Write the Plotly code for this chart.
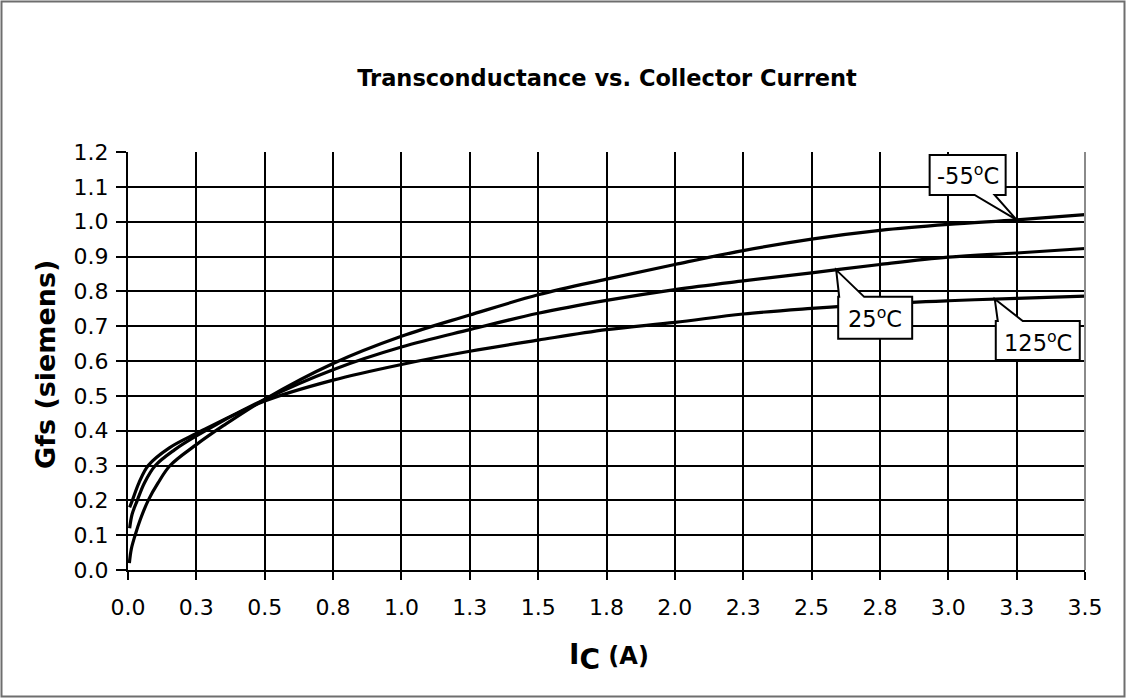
import numpy as np
import plotly.graph_objects as go

# ---------------- data ----------------
chart_title = "Transconductance vs. Collector Current"
y_axis_title = "Gfs (siemens)"

x_tick_values = [0.0, 0.25, 0.5, 0.75, 1.0, 1.25, 1.5, 1.75, 2.0, 2.25, 2.5, 2.75, 3.0, 3.25, 3.5]
x_tick_labels = ["0.0", "0.3", "0.5", "0.8", "1.0", "1.3", "1.5", "1.8", "2.0",
                 "2.3", "2.5", "2.8", "3.0", "3.3", "3.5"]

series_names = ["-55", "25", "125"]

ic_m55 = [0.005, 0.012, 0.026, 0.045, 0.074, 0.11, 0.154, 0.25, 0.35, 0.5, 0.75, 1.0,
          1.25, 1.5, 1.75, 2.0, 2.25, 2.5, 2.75, 3.0, 3.25, 3.5]
gfs_m55 = [0.02, 0.06, 0.10, 0.145, 0.20, 0.25, 0.30, 0.36, 0.415, 0.49, 0.593, 0.671,
           0.732, 0.79, 0.835, 0.877, 0.917, 0.95, 0.975, 0.992, 1.005, 1.02]

ic_25 = [0.006, 0.015, 0.034, 0.06, 0.1, 0.17, 0.25, 0.5, 0.75, 1.0, 1.25, 1.5, 1.75,
         2.0, 2.25, 2.5, 2.75, 3.0, 3.25, 3.5]
gfs_25 = [0.12, 0.16, 0.20, 0.25, 0.30, 0.345, 0.385, 0.49, 0.575, 0.64, 0.69, 0.737,
          0.774, 0.805, 0.83, 0.853, 0.877, 0.898, 0.91, 0.923]

ic_125 = [0.006, 0.016, 0.04, 0.074, 0.15, 0.25, 0.5, 0.75, 1.0, 1.25, 1.5, 1.75, 2.0,
          2.25, 2.5, 2.75, 3.0, 3.25, 3.5]
gfs_125 = [0.18, 0.20, 0.25, 0.30, 0.35, 0.392, 0.485, 0.545, 0.59, 0.628, 0.66, 0.69,
           0.711, 0.735, 0.751, 0.764, 0.773, 0.78, 0.786]

label_ic = [3.25, 2.59, 3.17]   # where each callout points on its curve

# ---------------- layout constants ----------------
W, H = 1126, 698
ML, MR, MT, MB = 128, 41, 152, 128
PW, PH = W - ML - MR, H - MT - MB
FONT = "DejaVu Sans"

fig = go.Figure()
series = [(ic_m55, gfs_m55), (ic_25, gfs_25), (ic_125, gfs_125)]
for name, (xs, ys) in zip(series_names, series):
    fig.add_trace(go.Scatter(
        x=xs, y=ys, mode="lines", name=name,
        line=dict(color="black", width=3.2, shape="spline", smoothing=1.0),
        hoverinfo="skip", showlegend=False,
    ))

# callouts: (box polygon relative to tip in px, text center offset)
callouts = [
    ("M 0,0 L -22,25 L -11,25 L -11,65 L -87,65 L -87,25 L -42,25 Z", (-49, 45)),
    ("M 0,0 L 28,-27 L 76,-27 L 76,-69 L 2,-69 L 2,-27 L 3,-27 Z", (39, -48)),
    ("M 0,0 L 28,-22 L 85,-22 L 85,-61 L 1,-61 L 1,-22 L 3,-22 Z", (43, -42)),
]
shapes = []
annotations = []
for name, (xs, ys), lx, (path, (dx, dy)) in zip(series_names, series, label_ic, callouts):
    ly = float(np.interp(lx, xs, ys))
    shapes.append(dict(
        type="path", xref="x", yref="y", xsizemode="pixel", ysizemode="pixel",
        xanchor=lx, yanchor=ly, path=path, fillcolor="white",
        line=dict(color="black", width=2), layer="above",
    ))
    annotations.append(dict(
        x=lx, y=ly, xref="x", yref="y", xshift=dx, yshift=dy,
        text=f"{name}<sup>o</sup>C", showarrow=False,
        xanchor="center", yanchor="middle",
        font=dict(family=FONT, size=22.5, color="black"),
    ))

# right border of the plot area (gray)
shapes.append(dict(type="line", xref="paper", yref="paper", x0=1, x1=1, y0=0, y1=1,
                   line=dict(color="#8a8a8a", width=2), layer="above"))
# outer frame
shapes.append(dict(type="rect", xref="paper", yref="paper",
                   x0=(1.5 - ML) / PW, x1=(W - 1.5 - ML) / PW,
                   y0=-(H - 1.5 - MT - PH) / PH, y1=1 + (MT - 1.5) / PH,
                   line=dict(color="#6e6e6e", width=2), layer="below"))

# axis titles
x_title = ("<b><span style='font-size:28px'>I</span><sub><span style='font-size:28px'>C</span></sub>"
           " <span style='font-size:24px'>(A)</span></b>")
annotations.append(dict(x=(609 - ML) / PW, y=-(657 - (MT + PH)) / PH, xref="paper", yref="paper",
                        text=x_title, showarrow=False, xanchor="center", yanchor="middle",
                        font=dict(family=FONT, size=24, color="black")))
annotations.append(dict(x=(45 - ML) / PW, y=((MT + PH) - 365) / PH, xref="paper", yref="paper",
                        text=f"<b>{y_axis_title}</b>", showarrow=False, textangle=-90,
                        xanchor="center", yanchor="middle",
                        font=dict(family=FONT, size=27, color="black")))

fig.update_layout(
    width=W, height=H,
    margin=dict(l=ML, r=MR, t=MT, b=MB, autoexpand=False),
    paper_bgcolor="white", plot_bgcolor="white",
    title=dict(text=f"<b>{chart_title}</b>", x=(607 - ML) / PW, xref="paper", xanchor="center",
               y=1 - 78 / H, yref="container", yanchor="middle",
               font=dict(family=FONT, size=22.5, color="black")),
    shapes=shapes, annotations=annotations,
    xaxis=dict(range=[0, 3.5], tickmode="array", tickvals=x_tick_values, ticktext=x_tick_labels,
               showgrid=True, gridcolor="black", gridwidth=2,
               showline=True, linecolor="black", linewidth=2,
               ticks="outside", ticklen=8, tickwidth=2, tickcolor="black",
               ticklabelstandoff=9,
               tickfont=dict(family=FONT, size=22, color="black"),
               zeroline=False, fixedrange=True),
    yaxis=dict(range=[0, 1.2], tick0=0, dtick=0.1, tickformat=".1f",
               showgrid=True, gridcolor="black", gridwidth=2,
               showline=True, linecolor="black", linewidth=2,
               ticks="outside", ticklen=10, tickwidth=2, tickcolor="black",
               ticklabelstandoff=3,
               tickfont=dict(family=FONT, size=22, color="black"),
               zeroline=False, fixedrange=True),
)

fig.write_html("out.html", config={"displayModeBar": False},
               post_script="document.body.style.margin='0';document.body.style.overflow='hidden';")
